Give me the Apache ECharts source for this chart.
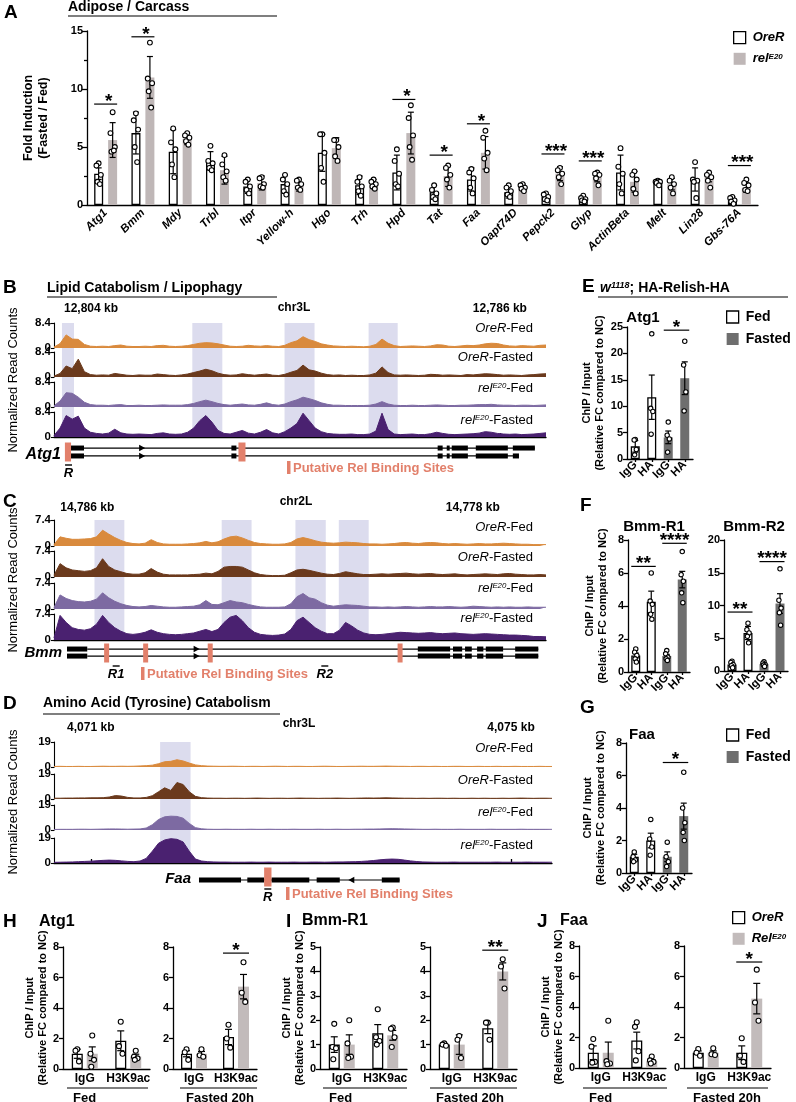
<!DOCTYPE html>
<html>
<head>
<meta charset="utf-8">
<script src="https://cdn.jsdelivr.net/npm/echarts@6.0.0/dist/echarts.min.js"></script>
<style>
html,body{margin:0;padding:0;background:#fff;}
#chart{width:796px;height:1102px;}
</style>
</head>
<body>
<div id="chart"></div>
<script>
// ===================== DATA =====================
// ---- Panel A: fold induction (fasted / fed) ----
const aGenes = ['Atg1','Bmm','Mdy','Trbl','Itpr','Yellow-h','Hgo','Trh','Hpd','Tat','Faa','Oapt74D','Pepck2','Glyp','ActinBeta','Melt','Lin28','Gbs-76A'];
const aOreMean = [2.7,6.2,4.6,3.8,1.6,1.8,4.5,1.7,2.8,1.1,2.2,1.1,0.7,0.5,2.8,1.95,2.2,0.4];
const aOreErr  = [0.5,1.8,1.9,0.8,0.6,0.8,1.6,0.8,1.5,0.6,1.0,0.5,0.3,0.2,1.5,0.15,1.0,0.3];
const aOrePts = [[3.6,3.4,2.6,2.0,1.8],[7.9,7.3,6.5,5.0,3.7],[6.6,5.4,4.8,3.5,2.4],[5.1,3.8,3.6,3.2,3.0],[2.2,2.0,1.6,1.3,1.0],[2.6,2.2,1.8,1.2,0.9],[6.1,6.1,4.5,3.2,2.0],[2.4,2.0,1.6,1.2,0.8],[4.8,3.8,2.7,1.8,1.6],[1.7,1.3,1.0,0.7,0.5],[3.1,2.8,2.3,1.5,1.0],[1.7,1.5,1.2,0.9,0.7],[1.0,0.9,0.7,0.5,0.4],[0.8,0.6,0.5,0.4,0.3],[4.9,3.3,2.7,1.8,1.0],[2.1,2.0,2.0,1.9,1.7],[3.7,2.2,2.1,2.0,0.6],[0.7,0.6,0.4,0.3,0.1]];
const aRelMean = [5.6,11.0,5.7,3.0,1.9,1.7,4.9,1.8,6.2,2.5,4.5,1.6,2.7,2.4,2.0,1.8,2.4,1.5];
const aRelErr  = [1.5,1.8,0.5,1.2,0.6,0.5,0.9,0.4,1.8,0.9,1.4,0.2,0.6,0.4,0.9,0.5,0.4,0.4];
const aRelPts = [[8.0,6.2,5.0,4.6,4.7],[14.0,10.9,10.5,9.8,8.4],[6.2,6.0,5.8,5.5,5.2],[4.3,3.5,2.9,2.4,2.1],[2.4,2.3,1.8,1.6,1.5],[2.2,2.1,1.8,1.5,1.3],[5.6,5.6,5.0,4.2,3.8],[2.2,2.0,1.8,1.6,1.4],[8.6,7.5,6.0,5.0,3.9],[3.4,3.2,2.6,2.2,1.5],[6.4,5.8,4.5,4.0,3.0],[1.8,1.7,1.5,1.4,1.2],[3.2,3.0,2.7,2.4,1.8],[2.8,2.7,2.6,2.3,1.7],[2.9,2.6,2.2,1.4,1.0],[2.4,2.1,1.8,1.5,1.0],[2.8,2.6,2.4,2.1,1.5],[2.2,1.9,1.7,1.3,1.2]];
const aSig = [{c1:0,c2:0,y:8.7,t:'*'},{c1:1,c2:1,y:14.5,t:'*'},{c1:8,c2:8,y:9.1,t:'*'},{c1:9,c2:9,y:4.3,t:'*'},{c1:10,c2:10,y:7.0,t:'*'},{c1:12,c2:12,y:4.4,t:'***'},{c1:13,c2:13,y:3.8,t:'***'},{c1:17,c2:17,y:3.4,t:'***'}];

// ---- Genome tracks (normalized read counts, equal bins across window) ----
const bWindowKb = [12805.63, 12783.97];
const bTicksKb = [12804, 12786];
const bBandsKb = [[12805.28,12804.75],[12799.54,12798.22],[12795.48,12794.16],[12791.78,12790.50]];
const bOreFed  = [0.3,1.5,4.4,3.0,2.9,1.2,0.6,0.5,0.6,0.5, 0.8,1.0,0.6,0.5,0.5,0.6,0.5,0.8,0.9,0.6, 0.5,0.6,0.8,1.2,1.6,1.8,1.7,1.4,1.0,0.6, 0.5,0.6,0.9,0.7,0.6,0.8,0.6,0.5,0.9,1.8, 2.4,3.8,2.8,2.2,1.4,1.0,0.7,0.6,0.5,0.6, 0.5,0.4,0.6,1.2,3.0,1.6,0.8,0.5,0.6,0.7, 0.6,0.5,0.7,1.1,1.0,0.6,0.5,0.7,0.9,0.8, 1.0,1.4,1.6,1.5,1.0,0.7,0.6,0.8,0.7,0.6, 0.9,1.0];
const bOreFast = [0.3,1.2,3.7,2.8,6.0,1.8,0.8,0.6,0.7,0.6, 1.2,0.9,0.6,0.5,0.7,0.6,0.6,1.0,0.8,0.6, 0.5,0.7,1.0,1.5,2.0,2.6,2.1,1.3,0.8,0.6, 0.7,1.1,0.8,0.6,0.8,1.0,0.6,0.5,0.9,1.6, 2.2,4.0,2.4,2.0,1.3,0.8,0.6,0.7,0.5,0.6, 0.5,0.5,0.7,1.3,3.4,1.5,0.7,0.6,0.7,0.6, 0.5,0.6,0.9,0.8,0.6,0.7,0.6,0.5,0.8,0.7, 0.9,1.1,1.0,0.8,0.6,0.7,0.6,0.5,0.7,0.8, 1.0,1.1];
const bRelFed  = [0.4,2.0,4.8,4.6,3.3,1.6,0.8,0.6,0.6,0.5, 0.7,0.8,0.5,0.5,0.6,0.5,0.5,0.6,0.7,0.6, 0.6,0.6,0.8,1.2,1.8,2.3,1.8,1.2,0.8,0.6, 0.8,1.0,0.7,0.6,0.9,1.4,0.8,0.6,1.0,1.8, 2.4,3.3,2.8,2.2,1.4,0.9,0.6,0.6,0.5,0.5, 0.5,0.5,0.6,1.0,1.8,1.0,0.6,0.5,0.5,0.6, 0.5,0.5,0.6,0.7,0.6,0.5,0.5,0.6,0.6,0.7, 0.8,0.8,0.9,0.7,0.6,0.6,0.5,0.6,0.6,0.5, 0.6,0.7];
const bRelFast = [0.5,3.0,7.2,6.0,7.0,3.0,1.6,1.2,1.0,1.3, 2.6,1.4,1.0,0.9,1.0,0.9,0.8,1.2,1.4,1.0, 0.9,1.0,1.6,3.0,5.5,7.2,5.0,2.2,1.2,1.0, 1.6,2.2,1.3,1.0,1.6,2.5,1.4,1.0,1.8,3.0, 4.5,8.0,5.5,3.0,1.8,1.2,1.0,0.9,0.9,1.0, 0.8,0.8,1.0,2.0,8.0,2.5,1.0,0.8,0.9,1.0, 0.8,0.8,1.1,1.6,1.2,0.9,0.8,0.9,1.0,1.1, 1.3,1.8,1.6,1.2,1.0,0.9,1.0,0.8,0.9,1.0, 1.2,1.4];

const cWindowKb = [14786.69, 14776.48];
const cTicksKb = [14786, 14778];
const cBandsKb = [[14785.85,14785.23],[14783.21,14782.59],[14781.68,14781.05],[14780.78,14780.16]];
const cOreFed  = [0.4,2.6,2.2,1.9,1.9,2.0,2.1,2.6,4.5,3.4, 2.4,1.6,1.0,0.7,0.6,0.8,1.8,1.0,0.6,0.5, 0.5,0.5,0.6,0.7,0.9,1.3,0.9,1.2,2.0,2.6, 2.8,2.3,1.6,1.0,0.7,0.6,0.5,0.5,0.6,1.0, 2.0,2.4,2.0,1.5,1.1,0.9,0.8,0.9,1.1,1.0, 0.9,0.7,0.6,0.6,0.5,0.6,0.7,0.9,1.0,0.8, 0.7,0.9,1.0,0.9,0.7,0.6,0.7,0.6,0.5,0.6, 0.7,0.6,0.6,0.7,0.8,0.7,0.6,0.5,0.5,0.4, 0.4,0.4];
const cOreFast = [0.5,3.8,2.6,2.0,1.8,1.6,1.8,2.6,5.2,3.0, 2.0,1.5,1.0,0.8,0.8,1.2,2.4,1.4,0.8,0.6, 0.6,0.6,0.6,0.7,0.8,1.1,0.9,1.6,2.8,3.0, 3.0,2.8,2.0,1.2,0.7,0.5,0.4,0.4,0.5,1.2, 2.0,2.2,1.9,1.5,1.1,0.8,0.7,1.0,1.5,1.2, 0.9,0.7,0.7,0.8,0.9,0.8,0.9,1.0,1.1,0.9, 0.8,0.9,1.0,0.8,0.7,0.8,0.9,0.7,0.6,0.7, 0.8,0.9,0.8,0.7,0.9,1.0,0.8,0.7,0.6,0.6, 0.7,0.6];
const cRelFed  = [0.4,4.0,3.0,2.4,2.1,2.0,2.2,2.8,4.6,3.2, 2.2,1.5,1.0,0.7,0.6,0.7,1.0,0.8,0.6,0.5, 0.5,0.6,0.7,0.8,1.2,2.4,1.3,1.2,1.8,2.4, 2.0,1.8,1.3,0.9,0.6,0.5,0.5,0.5,0.6,1.5, 3.5,4.4,3.2,2.8,1.8,1.1,0.8,1.0,1.2,1.1, 1.0,0.8,0.6,0.6,0.5,0.6,0.5,0.6,0.7,0.6, 0.5,0.6,0.7,0.6,0.6,0.7,0.6,0.5,0.6,0.8, 0.7,0.6,0.5,0.6,0.5,0.6,0.5,0.5,0.6,0.5, 0.5,0.5];
const cRelFast = [0.6,7.0,5.0,3.5,3.0,2.8,3.2,4.5,7.0,5.0, 3.5,2.5,1.8,1.6,1.8,2.2,2.9,2.2,1.8,1.6, 1.5,1.6,1.8,2.0,2.5,3.0,2.4,3.0,5.0,6.5, 7.0,5.5,3.5,2.2,1.6,1.4,1.3,1.4,1.7,3.0, 5.5,6.5,5.0,3.5,2.5,1.8,1.8,2.8,5.0,4.0, 2.8,2.0,1.6,1.5,1.6,1.8,2.0,2.2,2.1,2.0, 1.9,2.0,2.1,1.9,1.8,1.9,2.0,1.8,1.7,1.6, 1.7,1.8,1.7,1.6,1.5,1.4,1.4,1.3,1.2,1.0, 1.0,0.9];

const dWindowKb = [4070.65, 4075.39];
const dTicksKb = [4071, 4075];
const dBandsKb = [[4071.66,4071.95]];
const dOreFed  = [0.4,0.5,0.4,0.4,0.5,0.4,0.4,0.5,0.6,0.5, 0.5,0.6,0.5,0.6,0.8,1.0,1.4,2.5,4.0,4.3, 5.5,4.6,3.0,1.6,1.0,0.7,0.6,0.5,0.5,0.6, 0.5,0.4,0.5,0.5,0.4,0.5,0.6,0.5,0.4,0.5, 0.5,0.4,0.4,0.5,0.6,0.5,0.4,0.4,0.5,0.5, 0.6,0.5,0.5,0.6,0.7,0.6,0.5,0.5,0.4,0.5, 0.5,0.4,0.5,0.4,0.4,0.5,0.5,0.4,0.4,0.5, 0.4,0.4,0.5,0.4,0.4,0.5,0.4,0.4,0.4,0.5, 0.4,0.4];
const dOreFast = [0.6,0.6,0.7,0.7,0.8,0.8,0.9,0.9,1.0,1.5, 2.6,2.2,1.2,0.8,0.8,1.2,2.5,5.5,8.5,6.5, 12.5,11.0,5.5,2.0,1.0,0.7,0.6,0.6,0.5,0.6, 0.6,0.5,0.6,0.7,0.6,0.5,0.6,0.6,0.5,0.6, 0.7,0.6,0.6,0.5,0.6,0.6,0.7,0.6,0.5,0.6, 0.7,0.8,0.7,0.8,0.9,0.8,0.7,0.6,0.6,0.5, 0.6,0.5,0.6,0.6,0.5,0.6,0.5,0.5,0.6,0.5, 0.6,0.5,0.5,0.6,0.5,0.6,0.7,0.6,0.5,0.6, 0.6,0.5];
const dRelFed  = [0.4,0.5,0.5,0.5,0.6,0.6,0.5,0.6,0.7,0.8, 0.8,0.7,0.6,0.7,0.8,1.5,4.0,8.0,10.0,10.5, 10.3,9.0,5.0,1.8,0.9,0.6,0.5,0.5,0.6,0.5, 0.5,0.5,0.6,0.5,0.5,0.6,0.5,0.5,0.5,0.6, 0.5,0.5,0.5,0.6,0.5,0.5,0.6,0.5,0.5,0.6, 0.6,0.7,0.7,0.8,0.9,1.0,0.9,0.8,0.7,0.6, 0.5,0.5,0.6,0.5,0.5,0.5,0.6,0.5,0.5,0.5, 0.5,0.6,0.5,0.5,0.5,0.5,0.6,0.5,0.5,0.5, 0.5,0.5];
const dRelFast = [0.5,0.6,0.7,0.8,1.0,1.2,1.4,1.7,2.0,2.2, 2.0,1.6,1.2,1.0,1.5,3.5,9.0,15.0,17.5,18.5, 18.0,16.0,9.0,3.0,1.5,1.0,0.8,0.7,0.7,0.6, 0.6,0.6,0.7,0.6,0.6,0.7,0.6,0.6,0.6,0.7, 0.6,0.6,0.7,0.7,0.6,0.7,0.8,0.8,0.9,1.0, 1.2,1.5,1.9,2.4,2.8,3.0,2.8,2.2,1.6,1.1, 0.8,0.7,0.6,0.6,0.6,0.7,0.6,0.6,0.6,0.6, 0.6,0.6,0.7,0.6,0.6,0.6,0.6,0.7,0.6,0.6, 0.6,0.6];

// ---- Gene models (kb): introns [start,end,row], exons [start,end,row], sites [start,end], arrows [kb,row,dir], primers [kb,label] ----
const atg1Gene = {
  introns: [[12804.31,12784.46,0],[12804.31,12785.16,1]],
  exons: [[12805.10,12804.31,0],[12805.10,12804.31,1],[12797.82,12797.60,0],[12797.82,12797.60,1],[12788.74,12788.52,0],[12788.74,12788.52,1],[12788.34,12788.21,0],[12788.34,12788.21,1],[12788.12,12787.41,0],[12788.12,12787.41,1],[12787.06,12785.65,0],[12787.06,12785.65,1],[12785.43,12784.46,0],[12785.43,12785.16,1]],
  sites: [[12805.15,12804.88],[12797.51,12797.20]],
  arrows: [[12801.75,0,1],[12801.75,1,1]],
  primers: [[12804.99,'R']]
};
const bmmGene = {
  introns: [[14786.0,14776.64,0],[14786.0,14776.64,1]],
  exons: [[14786.42,14786.0,0],[14786.42,14786.0,1],[14779.14,14778.47,0],[14779.14,14778.47,1],[14778.41,14778.22,0],[14778.41,14778.22,1],[14778.16,14778.02,0],[14778.16,14778.02,1],[14777.91,14777.78,0],[14777.91,14777.78,1],[14777.73,14777.37,0],[14777.73,14777.37,1],[14777.12,14776.64,0],[14777.12,14776.64,1]],
  sites: [[14785.65,14785.55],[14784.84,14784.74],[14783.50,14783.40],[14779.56,14779.46]],
  arrows: [[14783.73,0,1],[14783.73,1,1]],
  primers: [[14785.40,'R1'],[14781.07,'R2']]
};
const faaGene = {
  introns: [[4072.03,4073.94,0]],
  exons: [[4072.03,4072.43,0],[4072.49,4072.65,0],[4072.72,4073.08,0],[4073.15,4073.37,0],[4073.77,4073.94,0]],
  sites: [[4072.65,4072.72]],
  arrows: [[4073.48,0,-1]],
  primers: [[4072.685,'R']]
};

// ---- Panels E/F/G: HA-Relish ChIP ----
const egCats = ['IgG','HA','IgG','HA'];
const egCond = ['Fed','Fed','Fasted','Fasted'];
const eMean = [2.4,11.7,4.1,15.3];
const eErr  = [1.1,4.2,1.2,3.1];
const ePts  = [[3.7,3.6,1.8,0.8],[23.7,9.6,9.0,4.7],[7.0,4.5,3.8,1.3],[22.3,17.8,12.7,9.1]];
const eSig  = [{c1:2,c2:3,y:24.4,t:'*'}];
const f1Mean = [1.0,4.25,0.97,5.6];
const f1Err  = [0.15,0.65,0.1,0.5];
const f1Pts  = [[1.4,1.2,1.0,0.8,0.6],[6.0,4.3,4.1,3.5,3.2],[1.3,1.1,0.9,0.8,0.7],[7.3,5.9,5.5,4.8,4.2]];
const f1Sig  = [{c1:0,c2:1,y:6.4,t:'**'},{c1:2,c2:3,y:7.8,t:'****'}];
const f2Mean = [1.0,5.8,1.05,10.3];
const f2Err  = [0.2,1.0,0.15,1.5];
const f2Pts  = [[1.5,1.3,1.0,0.8,0.5],[7.3,6.3,5.8,5.3,4.3],[1.4,1.2,1.0,0.9,0.7],[15.6,10.8,9.6,8.9,7.0]];
const f2Sig  = [{c1:0,c2:1,y:9.0,t:'**'},{c1:2,c2:3,y:16.7,t:'****'}];
const gMean = [1.0,2.0,1.0,3.5];
const gErr  = [0.15,0.45,0.3,0.8];
const gPts  = [[1.3,1.0,0.8,0.7],[3.3,2.1,1.6,1.1],[1.9,1.0,0.7,0.4],[6.2,4.0,3.1,2.5,2.0]];
const gSig  = [{c1:2,c2:3,y:6.8,t:'*'}];

// ---- Panels H/I/J: H3K9ac ChIP ----
const hijCats = ['IgG','H3K9ac'];
const hFed  = {oM:[1.0,1.85], oE:[0.3,0.65], oP:[[1.3,1.2,0.5],[3.1,1.5,1.0]], rM:[1.0,0.82], rE:[0.45,0.15], rP:[[2.2,1.0,0.6,0.15],[1.2,0.8,0.7,0.6]], sig:[]};
const hFast = {oM:[1.0,2.1], oE:[0.2,0.5], oP:[[1.3,1.1,0.6],[2.9,2.0,1.4]], rM:[1.0,5.4], rE:[0.15,0.8], rP:[[1.3,0.9,0.8],[7.0,5.0,4.4]], sig:[{c1:1,c2:1,y:7.6,t:'*'}]};
const iFed  = {oM:[1.0,1.47], oE:[0.32,0.35], oP:[[1.85,0.9,0.85,0.4],[2.45,1.3,1.15,1.0]], rM:[1.0,1.38], rE:[0.4,0.2], rP:[[2.0,1.05,0.5,0.45],[1.7,1.65,1.3,0.9]], sig:[]};
const iFast = {oM:[1.0,1.67], oE:[0.05,0.22], oP:[[1.05,1.0,0.95],[1.9,1.9,1.2]], rM:[1.0,4.0], rE:[0.4,0.35], rP:[[1.35,1.2,0.45],[4.5,4.2,3.3]], sig:[{c1:1,c2:1,y:4.87,t:'**'}]};
const jFed  = {oM:[1.0,1.8], oE:[0.45,0.55], oP:[[1.9,1.4,0.4,0.35],[3.0,2.7,1.1,0.5]], rM:[1.0,0.45], rE:[0.7,0.1], rP:[[3.1,0.45,0.3,0.25],[0.75,0.5,0.4,0.3]], sig:[]};
const jFast = {oM:[1.0,1.0], oE:[0.12,0.45], oP:[[1.25,1.0,0.8],[1.95,0.8,0.4]], rM:[1.0,4.55], rE:[0.12,1.0], rP:[[1.3,0.9,0.85],[6.45,4.3,3.1]], sig:[{c1:1,c2:1,y:6.95,t:'*'}]};

// ===================== STYLE =====================
const FONT = '"Liberation Sans", Arial, Helvetica, sans-serif';
const GRAY_A = '#bfb7b7';
const GRAY_H = '#c2bbbb';
const DARK = '#6e6e6e';
const SALMON = '#e2806b';
const BAND = '#dcdcee';
const TRACK_COLORS = ['#d98a3d','#6b3a1d','#7d6aa2','#4a2170'];
const AX = {color:'#000', width:1.3};

const grid=[], xAxis=[], yAxis=[], series=[], graphic=[], legend=[];
function addGrid(g){ grid.push(g); return grid.length-1; }
function labelStyle(o){ return Object.assign({color:'#000', fontFamily:FONT, fontWeight:'bold', fontSize:11}, o||{}); }
function yAx(gi, o){ return Object.assign({gridIndex:gi, type:'value', axisLine:{show:true, lineStyle:AX}, axisTick:{show:true, length:4, lineStyle:AX}, splitLine:{show:false}, axisLabel:labelStyle({margin:4})}, o); }
const NAME_STYLE = {color:'#000', fontFamily:FONT, fontWeight:'bold', fontSize:11, lineHeight:13};

const JIT = [0,-2.2,2.2,-1.2,1.2];
function dotSeries(gi, means, errs, pts, off, o){
  return {type:'custom', xAxisIndex:gi, yAxisIndex:gi, z:4, silent:true, clip:false,
    data: means.map((m,i)=>[i,m]),
    renderItem:(params, api)=>{
      const i=params.dataIndex, m=means[i], e=errs[i];
      if(m==null) return null;
      const x = api.coord([i,m])[0]+off;
      const yt = api.coord([i,m+e])[1], yb = api.coord([i,Math.max(0,m-e)])[1];
      const st = ()=>({stroke:'#000', lineWidth:1.2});
      const ch=[{type:'line',shape:{x1:x,y1:yt,x2:x,y2:yb},style:st()},
        {type:'line',shape:{x1:x-o.cap,y1:yt,x2:x+o.cap,y2:yt},style:st()},
        {type:'line',shape:{x1:x-o.cap,y1:yb,x2:x+o.cap,y2:yb},style:st()}];
      (pts[i]||[]).forEach((p,k)=>{
        ch.push({type:'circle', shape:{cx:x+(o.jit?JIT[k%5]*o.jit:0), cy:api.coord([i,p])[1], r:o.r}, style:{fill:'#fff', stroke:'#000', lineWidth:1.1}});
      });
      return {type:'group', children:ch};
    }};
}
function sigSeries(gi, sigs, half, o){
  o = o||{};
  return {type:'custom', xAxisIndex:gi, yAxisIndex:gi, z:6, silent:true, clip:false,
    data: sigs.map(s=>[s.c1, s.y]),
    renderItem:(params, api)=>{
      const s = sigs[params.dataIndex];
      const p1 = api.coord([s.c1, s.y]), p2 = api.coord([s.c2, s.y]);
      const x1=p1[0]-half, x2=p2[0]+half, y=p1[1];
      return {type:'group', children:[
        {type:'line', shape:{x1:x1, y1:y, x2:x2, y2:y}, style:{stroke:'#000', lineWidth:1.2}},
        {type:'text', style:{text:s.t, x:(x1+x2)/2+(o.dx||0), y:y-(o.up||12), align:'center', verticalAlign:'top', fontSize:o.fs||19, fontWeight:'bold', fontFamily:FONT, fill:'#000'}}]};
    }};
}

function T(x,y,text,o){ o=o||{}; graphic.push({type:'text', x:x, y:y, rotation:o.rot||0, silent:true, z:50,
  style:{text:text, fill:o.color||'#000', fontFamily:FONT, fontSize:o.fs||12, fontWeight:o.fw||'bold', fontStyle:o.it?'italic':'normal', align:o.align||'left', verticalAlign:o.va||'middle', rich:o.rich}}); }
function L(x1,y1,x2,y2,o){ o=o||{}; graphic.push({type:'line', silent:true, z:50, shape:{x1:x1,y1:y1,x2:x2,y2:y2}, style:{stroke:o.color||'#000', lineWidth:o.lw||1.2}}); }
function RC(x,y,w,h,color){ graphic.push({type:'rect', silent:true, z:50, shape:{x:x,y:y,width:w,height:h}, style:{fill:color}}); }

const richSup = (fs)=>({
  i:{fontFamily:FONT, fontStyle:'italic', fontWeight:'normal', fontSize:fs, fill:'#000'},
  s:{fontFamily:FONT, fontStyle:'italic', fontWeight:'normal', fontSize:fs*0.6, verticalAlign:'top', fill:'#000'},
  n:{fontFamily:FONT, fontWeight:'normal', fontSize:fs, fill:'#000'}
});

// ===================== PANEL A =====================
const gA = addGrid({left:87, top:31, width:671, height:174});
xAxis.push({gridIndex:gA, type:'category', data:aGenes, axisLine:{lineStyle:AX}, axisTick:{alignWithLabel:true, interval:0, length:5, lineStyle:AX},
  axisLabel:labelStyle({interval:0, rotate:45, fontStyle:'italic', fontSize:11.5, margin:6})});
yAxis.push(yAx(gA, {min:0, max:15, interval:5, minorTick:{show:true, splitNumber:2, length:3, lineStyle:AX}, minorSplitLine:{show:false},
  axisTick:{show:true, length:5, lineStyle:AX},
  name:'Fold Induction\n(Fasted / Fed)', nameLocation:'middle', nameGap:36, nameRotate:90, nameTextStyle:Object.assign({}, NAME_STYLE, {fontSize:12.5, lineHeight:15})}));
series.push({type:'bar', name:'OreR', xAxisIndex:gA, yAxisIndex:gA, data:aOreMean, barWidth:9, barGap:'55%', itemStyle:{color:'#fff', borderColor:'#000', borderWidth:1.3}, silent:true});
series.push({type:'bar', name:'relE20', xAxisIndex:gA, yAxisIndex:gA, data:aRelMean, barWidth:9, barGap:'55%', itemStyle:{color:GRAY_A}, silent:true});
series.push(dotSeries(gA, aOreMean, aOreErr, aOrePts, -7, {cap:3, r:2.4, jit:1}));
series.push(dotSeries(gA, aRelMean, aRelErr, aRelPts, 7, {cap:3, r:2.4, jit:1}));
series.push(sigSeries(gA, aSig, 11.5, {dx:3}));
T(4, 13, 'A', {fs:19});
T(68, 7, 'Adipose / Carcass', {fs:14});
L(68, 16, 277, 16);

function legendFmt(name){
  if(name==='OreR') return '{i|OreR}';
  if(name==='relE20') return '{i|rel}{s|E20}';
  if(name==='RelE20') return '{i|Rel}{s|E20}';
  return '{b|'+name+'}';
}
const LEG_RICH = {
  i:{fontFamily:FONT, fontStyle:'italic', fontWeight:'bold', fontSize:13, color:'#000'},
  s:{fontFamily:FONT, fontStyle:'italic', fontWeight:'bold', fontSize:8, color:'#000', verticalAlign:'top'},
  b:{fontFamily:FONT, fontWeight:'bold', fontSize:14, color:'#000'}
};
function addLegend(left, top, names, styles, gap){
  legend.push({left:left, top:top, orient:'vertical', itemWidth:12, itemHeight:12, itemGap:gap||8, selectedMode:false, icon:'rect',
    data: names.map((n,k)=>({name:n, itemStyle:styles[k]})), formatter:legendFmt, textStyle:{rich:LEG_RICH, padding:[0,0,0,2]}});
}
const WHITE_BAR = {color:'#fff', borderColor:'#000', borderWidth:1.3};
addLegend(728, 26, ['OreR','relE20'], [WHITE_BAR, {color:GRAY_A}], 8);

// ===================== TRACK PANELS =====================
function trackPanel(cfg){
  const lo = Math.min(cfg.win[0],cfg.win[1]), hi = Math.max(cfg.win[0],cfg.win[1]), inv = cfg.win[0]>cfg.win[1];
  const xBase = {type:'value', min:lo, max:hi, inverse:inv};
  const gb = addGrid({left:cfg.left, width:cfg.width, top:cfg.tops[0], height:cfg.tops[3]+cfg.h-cfg.tops[0]});
  xAxis.push(Object.assign({}, xBase, {gridIndex:gb, position:'top', offset:cfg.axOff,
    axisLine:{show:true, lineStyle:AX}, axisTick:{show:true, customValues:cfg.ticks, length:4, lineStyle:AX},
    axisLabel:labelStyle({show:true, customValues:cfg.ticks, fontSize:12, margin:3, formatter:(v)=>Number(v).toLocaleString('en-US')+' kb'}),
    splitLine:{show:false}}));
  yAxis.push({gridIndex:gb, type:'value', min:0, max:1, show:false});
  series.push({type:'line', xAxisIndex:gb, yAxisIndex:gb, data:[[lo,0]], symbol:'none', lineStyle:{opacity:0}, silent:true, z:1,
    markArea:{silent:true, itemStyle:{color:BAND}, data: cfg.bands.map(b=>[{xAxis:b[0]},{xAxis:b[1]}])}});
  cfg.tracks.forEach((arr,k)=>{
    const g = addGrid({left:cfg.left, width:cfg.width, top:cfg.tops[k], height:cfg.h});
    xAxis.push(Object.assign({}, xBase, {gridIndex:g, show:false}));
    yAxis.push(yAx(g, {min:0, max:cfg.yMax, interval:cfg.yMax, axisTick:{show:true, length:3, lineStyle:{color:'#000', width:1.1}}, axisLine:{show:true, lineStyle:{color:'#000', width:1.1}}, axisLabel:labelStyle({margin:3, fontSize:11.5})}));
    const step = (cfg.win[1]-cfg.win[0])/(arr.length-1);
    series.push({type:'line', xAxisIndex:g, yAxisIndex:g, data:arr.map((v,i)=>[cfg.win[0]+i*step, v]), symbol:'none', showSymbol:false,
      lineStyle:{color:TRACK_COLORS[k], width:1}, areaStyle:{color:TRACK_COLORS[k], opacity:1}, z:3, silent:true});
  });
  const gg = addGrid({left:cfg.left, width:cfg.width, top:cfg.geneTop, height:cfg.geneH});
  xAxis.push(Object.assign({}, xBase, {gridIndex:gg, show:false}));
  yAxis.push({gridIndex:gg, type:'value', min:0, max:1, show:false});
  series.push(geneSeries(gg, cfg.gene, cfg.rowY));
}
function geneSeries(gi, gene, rowY){
  const items=[];
  gene.introns.forEach(a=>items.push({k:'in', s:a[0], e:a[1], r:a[2]}));
  gene.exons.forEach(a=>items.push({k:'ex', s:a[0], e:a[1], r:a[2]}));
  gene.arrows.forEach(a=>items.push({k:'ar', s:a[0], e:a[0], r:a[1], d:a[2]}));
  gene.sites.forEach(a=>items.push({k:'site', s:a[0], e:a[1], r:-1}));
  gene.primers.forEach(a=>items.push({k:'pr', s:a[0], e:a[0], r:-1, t:a[1]}));
  return {type:'custom', xAxisIndex:gi, yAxisIndex:gi, silent:true, clip:false, z:5,
    data: items.map(it=>[it.s, it.e, it.r<0?0.5:rowY[it.r]]),
    renderItem:(params, api)=>{
      const it = items[params.dataIndex];
      const y = it.r<0 ? 0.5 : rowY[it.r];
      const p1 = api.coord([it.s, y]), p2 = api.coord([it.e, y]);
      const x1 = Math.min(p1[0],p2[0]), x2 = Math.max(p1[0],p2[0]);
      if(it.k==='in') return {type:'line', shape:{x1:x1, y1:p1[1], x2:x2, y2:p1[1]}, style:{stroke:'#000', lineWidth:1.2}};
      if(it.k==='ex') return {type:'rect', shape:{x:x1, y:p1[1]-2.5, width:x2-x1, height:5}, style:{fill:'#000'}};
      if(it.k==='site') return {type:'rect', shape:{x:x1, y:p1[1]-9.5, width:Math.max(x2-x1,5), height:19}, style:{fill:SALMON}};
      if(it.k==='ar'){ const d=it.d, x=p1[0], yy=p1[1]; return {type:'polygon', shape:{points:[[x-3*d,yy-3.2],[x+3*d,yy],[x-3*d,yy+3.2]]}, style:{fill:'#000'}}; }
      if(it.k==='pr'){ const bottom = api.coord([it.s,0])[1]; const x=p1[0];
        return {type:'group', children:[
          {type:'line', shape:{x1:x-3.5, y1:bottom+2, x2:x+3.5, y2:bottom+2}, style:{stroke:'#000', lineWidth:1.4}},
          {type:'text', style:{text:it.t, x:x, y:bottom+4, align:'center', verticalAlign:'top', fontSize:13, fontWeight:'bold', fontStyle:'italic', fontFamily:FONT, fill:'#000'}}]}; }
      return null;
    }};
}

trackPanel({win:bWindowKb, ticks:bTicksKb, bands:bBandsKb, tracks:[bOreFed,bOreFast,bRelFed,bRelFast], yMax:8.4,
  left:54, width:492, tops:[323,352,382,412], h:25, axOff:5, geneTop:441, geneH:22, rowY:[0.68,0.32], gene:atg1Gene});
trackPanel({win:cWindowKb, ticks:cTicksKb, bands:cBandsKb, tracks:[cOreFed,cOreFast,cRelFed,cRelFast], yMax:7.4,
  left:54, width:492, tops:[520,551,583,614], h:26, axOff:3, geneTop:642, geneH:22, rowY:[0.68,0.36], gene:bmmGene});
trackPanel({win:dWindowKb, ticks:dTicksKb, bands:dBandsKb, tracks:[dOreFed,dOreFast,dRelFed,dRelFast], yMax:19,
  left:54, width:498, tops:[742,774,805,838], h:25, axOff:5, geneTop:867, geneH:20, rowY:[0.35], gene:faaGene});

T(3, 288, 'B', {fs:19});
T(47, 288, 'Lipid Catabolism / Lipophagy', {fs:14});
L(47, 297, 277, 297);
T(294, 308, 'chr3L', {fs:12, align:'center'});
T(3, 502, 'C', {fs:19});
T(296, 502, 'chr2L', {fs:12, align:'center'});
T(3, 704, 'D', {fs:19});
T(43, 703, 'Amino Acid (Tyrosine) Catabolism', {fs:14});
L(43, 714, 280, 714);
T(299, 724, 'chr3L', {fs:12, align:'center'});
const trackLabels = ['{i|OreR}{n|-Fed}','{i|OreR}{n|-Fasted}','{i|rel}{s|E20}{n|-Fed}','{i|rel}{s|E20}{n|-Fasted}'];
[[328,357,388,420],[527,557,588,618],[748,780,812,845]].forEach((ys,p)=>{
  ys.forEach((y,k)=>T(533, y, trackLabels[k], {align:'right', fw:'normal', rich:richSup(13)}));
});
T(13, 380, 'Normalized Read Counts', {rot:Math.PI/2, align:'center', fw:'normal', fs:13});
T(13, 580, 'Normalized Read Counts', {rot:Math.PI/2, align:'center', fw:'normal', fs:13});
T(13, 802, 'Normalized Read Counts', {rot:Math.PI/2, align:'center', fw:'normal', fs:13});
T(61, 455, 'Atg1', {fs:16, it:true, align:'right'});
T(62, 653, 'Bmm', {fs:15, it:true, align:'right'});
T(191, 879, 'Faa', {fs:15, it:true, align:'right'});
RC(287, 461, 3.5, 13, SALMON); T(293, 468, 'Putative Rel Binding Sites', {fs:13, color:SALMON});
RC(141, 667, 3.5, 13, SALMON); T(147, 674, 'Putative Rel Binding Sites', {fs:13, color:SALMON});
RC(286, 887, 3.5, 13, SALMON); T(292, 894, 'Putative Rel Binding Sites', {fs:13, color:SALMON});

// ===================== PANELS E/F/G =====================
function haChart(left, top, width, height, max, interval, means, errs, pts, sigs, name){
  const g = addGrid({left:left, top:top, width:width, height:height});
  xAxis.push({gridIndex:g, type:'category', data:egCats, axisLine:{lineStyle:AX}, axisTick:{show:true, alignWithLabel:true, length:3, lineStyle:AX},
    axisLabel:labelStyle({interval:0, rotate:45, fontSize:11.5, margin:4})});
  const yo = {min:0, max:max, interval:interval};
  if(name){ Object.assign(yo, {name:'ChIP / Input\n(Relative FC compared to NC)', nameLocation:'middle', nameGap:19, nameRotate:90, nameTextStyle:NAME_STYLE}); }
  yAxis.push(yAx(g, yo));
  ['Fed','Fasted'].forEach(c=>{
    series.push({type:'bar', name:c, xAxisIndex:g, yAxisIndex:g, barWidth:9, barGap:'-100%', silent:true,
      data: means.map((m,i)=>egCond[i]===c?m:'-'),
      itemStyle: c==='Fed' ? {color:'#fff', borderColor:'#000', borderWidth:1.3} : {color:DARK}});
  });
  series.push(dotSeries(g, means, errs, pts, 0, {cap:3, r:2.2, jit:0.5}));
  series.push(sigSeries(g, sigs, 4.5));
  return g;
}
haChart(627, 327, 66, 132, 25, 5, eMean, eErr, ePts, eSig, true);
haChart(628, 540, 62, 132, 8, 2, f1Mean, f1Err, f1Pts, f1Sig, true);
haChart(724, 540, 64, 131, 20, 5, f2Mean, f2Err, f2Pts, f2Sig, false);
haChart(626, 743, 66, 130, 8, 2, gMean, gErr, gPts, gSig, true);
T(582, 287, 'E', {fs:19});
T(600, 288, '{wi|w}{ws|1118}{b|; HA-Relish-HA}', {rich:{
  wi:{fontFamily:FONT, fontStyle:'italic', fontWeight:'bold', fontSize:14, fill:'#000'},
  ws:{fontFamily:FONT, fontStyle:'italic', fontWeight:'bold', fontSize:9, verticalAlign:'top', fill:'#000'},
  b:{fontFamily:FONT, fontWeight:'bold', fontSize:14, fill:'#000'}}});
L(598, 297, 788, 297);
T(643, 318, 'Atg1', {fs:15, align:'center'});
addLegend(721, 305, ['Fed','Fasted'], [WHITE_BAR, {color:DARK}], 8);
T(580, 506, 'F', {fs:19});
T(654, 527, 'Bmm-R1', {fs:15, align:'center'});
T(754, 527, 'Bmm-R2', {fs:15, align:'center'});
T(580, 708, 'G', {fs:19});
T(642, 735, 'Faa', {fs:15, align:'center'});
addLegend(721, 723, ['Fed','Fasted'], [WHITE_BAR, {color:DARK}], 8);

// ===================== PANELS H/I/J =====================
function h3Chart(left, top, width, height, max, interval, d, name, nameGap){
  const g = addGrid({left:left, top:top, width:width, height:height});
  xAxis.push({gridIndex:g, type:'category', data:hijCats, axisLine:{lineStyle:AX}, axisTick:{show:false},
    axisLabel:labelStyle({interval:0, fontSize:12, margin:4})});
  const yo = {min:0, max:max, interval:interval};
  if(name){ Object.assign(yo, {name:'ChIP / Input\n(Relative FC compared to NC)', nameLocation:'middle', nameGap:nameGap, nameRotate:90, nameTextStyle:NAME_STYLE}); }
  yAxis.push(yAx(g, yo));
  series.push({type:'bar', name:'OreR', xAxisIndex:g, yAxisIndex:g, data:d.oM, barWidth:11, barGap:'36%', itemStyle:{color:'#fff', borderColor:'#000', borderWidth:1.3}, silent:true});
  series.push({type:'bar', name:'RelE20', xAxisIndex:g, yAxisIndex:g, data:d.rM, barWidth:11, barGap:'36%', itemStyle:{color:GRAY_H}, silent:true});
  series.push(dotSeries(g, d.oM, d.oE, d.oP, -7.5, {cap:3.5, r:2.5, jit:0.8}));
  series.push(dotSeries(g, d.rM, d.rE, d.rP, 7.5, {cap:3.5, r:2.5, jit:0.8}));
  series.push(sigSeries(g, d.sig, 13));
}
h3Chart(63, 947, 87, 122, 8, 2, hFed, true, 14);
h3Chart(173, 947, 84, 122, 8, 2, hFast, false);
h3Chart(320, 947, 87, 122, 5, 1, iFed, true, 10);
h3Chart(430, 947, 87, 122, 5, 1, iFast, false);
h3Chart(579, 946, 87, 122, 8, 2, jFed, true, 10);
h3Chart(684, 946, 87, 122, 8, 2, jFast, false);
T(3, 922, 'H', {fs:19}); T(39, 922, 'Atg1', {fs:16});
T(286, 922, 'I', {fs:19}); T(302, 921, 'Bmm-R1', {fs:16});
T(537, 922, 'J', {fs:19}); T(560, 921, 'Faa', {fs:16});
addLegend(727, 906, ['OreR','RelE20'], [WHITE_BAR, {color:GRAY_H}], 8);
[[67,148,'Fed'],[180,257,'Fasted 20h'],[323,407,'Fed'],[430,517,'Fasted 20h'],[583,667,'Fed'],[687,768,'Fasted 20h']].forEach(a=>{
  L(a[0], 1088, a[1], 1088);
  T(a[0]+6, 1098, a[2], {fs:13});
});

// ===================== RENDER =====================
const chart = echarts.init(document.getElementById('chart'), null, {renderer:'canvas'});
chart.setOption({
  animation:false,
  backgroundColor:'#fff',
  textStyle:{fontFamily:FONT},
  grid:grid, xAxis:xAxis, yAxis:yAxis, series:series, legend:legend,
  graphic:{elements:graphic}
});
</script>
</body>
</html>
